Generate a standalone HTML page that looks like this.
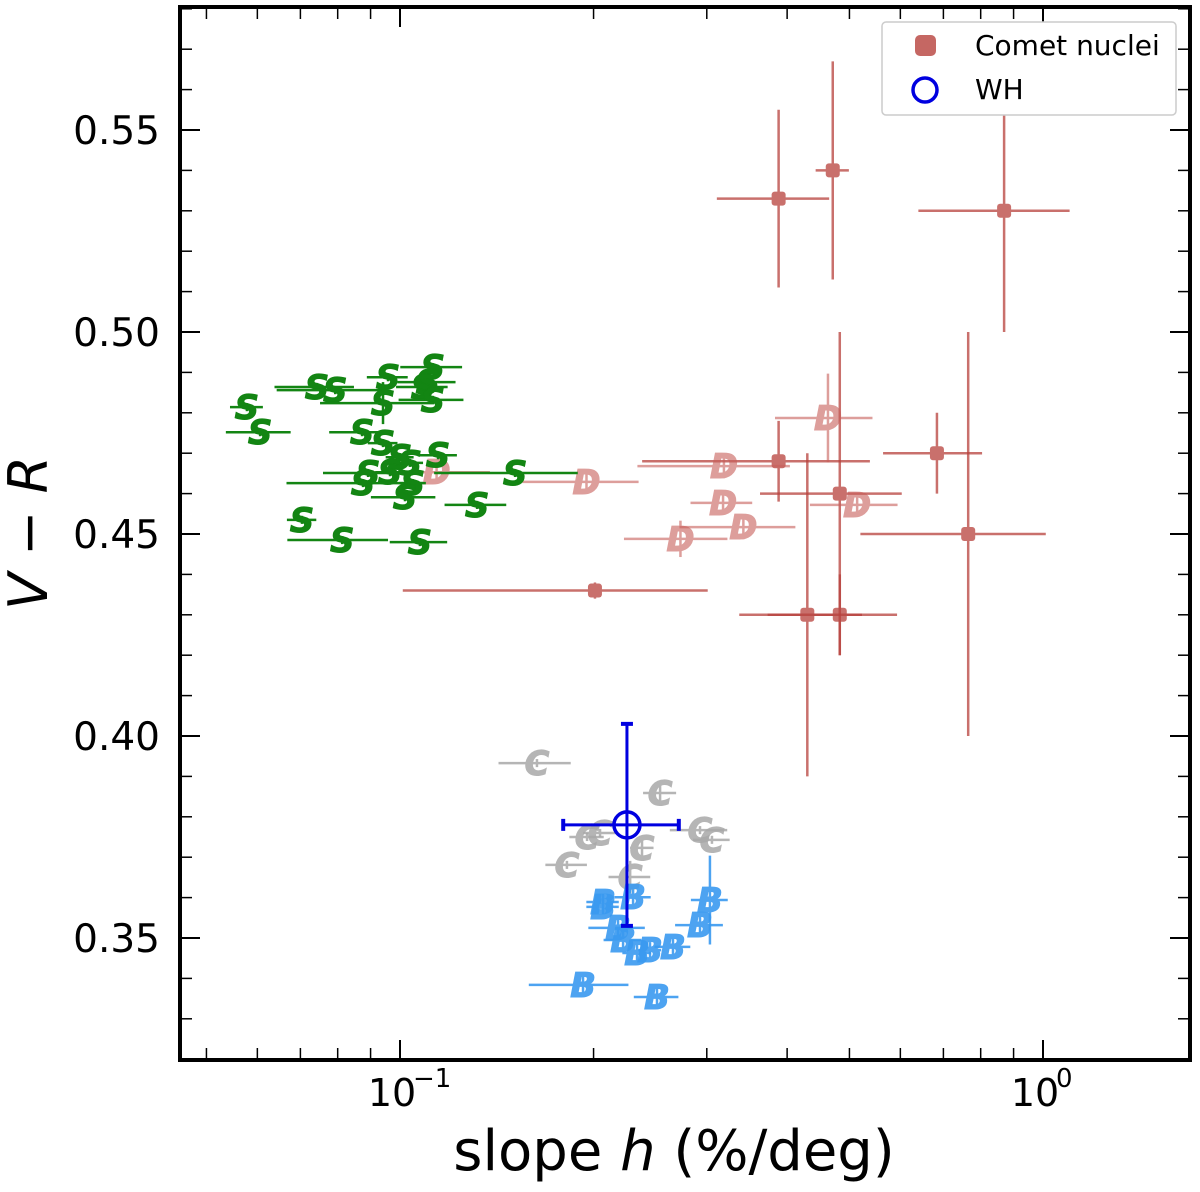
<!DOCTYPE html>
<html><head><meta charset="utf-8"><style>
html,body{margin:0;padding:0;background:#fff;}
svg text{font-family:"DejaVu Sans","Liberation Sans",sans-serif;}
</style></head><body>
<svg id="chart" width="1200" height="1187" viewBox="0 0 1200 1187" xmlns="http://www.w3.org/2000/svg">
<g id="marks"></g>
<g id="axes"></g>
</svg>
<script>
// ---- data ----
const cometX = [0.388,0.471,0.870,0.388,0.483,0.684,0.765,0.430,0.483,0.201];
const cometY = [0.533,0.540,0.530,0.468,0.460,0.470,0.450,0.430,0.430,0.436];
const cometXerr = [0.077,0.028,0.23,0.15,0.12,0.12,0.245,0.093,0.11,0.1];
const cometYerr = [0.022,0.027,0.030,0.010,0.040,0.010,0.050,0.040,0.010,0.002];

const dX = [0.463,0.319,0.195,0.318,0.342,0.514,0.273,0.114];
const dY = [0.4787,0.4668,0.4629,0.4577,0.4517,0.4572,0.4488,0.4653];
const dXerr = [0.08,0.085,0.04,0.035,0.07,0.08,0.05,0.024];
const dYerr = [0.011,0.003,0.003,0.003,0.003,0.003,0.0045,0.002];

const sX = [0.0578,0.0606,0.0743,0.0793,0.0958,0.1125,0.1105,0.1086,0.1125,0.0941,0.0873,0.0941,0.1146,0.1,0.1036,0.0892,0.0965,0.0876,0.1047,0.1018,0.151,0.1318,0.0704,0.0813,0.1074];
const sY = [0.4814,0.4752,0.4864,0.4856,0.4888,0.4913,0.4876,0.4864,0.4832,0.4824,0.4752,0.4725,0.4695,0.469,0.4676,0.4651,0.4653,0.4626,0.4626,0.4591,0.4651,0.4572,0.4535,0.4485,0.448];
const sXerr = [0.0034,0.007,0.0105,0.015,0.007,0.0124,0.0115,0.01,0.013,0.019,0.0097,0.005,0.008,0.005,0.005,0.0133,0.005,0.021,0.005,0.0117,0.038,0.0145,0.0037,0.0145,0.011];
const sYerr = [0.001,0.001,0.001,0.001,0.001,0.001,0.001,0.001,0.001,0.0052,0.001,0.001,0.001,0.001,0.001,0.001,0.001,0.001,0.001,0.001,0.001,0.001,0.001,0.001,0.001];

const cX = [0.1633,0.2538,0.1954,0.2047,0.2379,0.2928,0.3056,0.1818,0.228];
const cY = [0.3933,0.3859,0.375,0.376,0.3723,0.3767,0.3743,0.3681,0.3651];
const cXerr = [0.021,0.015,0.012,0.012,0.01,0.03,0.02,0.0135,0.017];
const cYerr = [0.001,0.002,0.001,0.001,0.002,0.001,0.001,0.001,0.004];

const bX = [0.2069,0.2304,0.3034,0.2928,0.2183,0.2223,0.2337,0.2448,0.2658,0.1926,0.251,0.2069];
const bY = [0.3589,0.3601,0.3594,0.3532,0.3525,0.3495,0.3463,0.347,0.3478,0.3384,0.3354,0.3577];
const bXerr = [0.012,0.015,0.02,0.025,0.022,0.015,0.012,0.01,0.017,0.034,0.02,0.012];
const bYerr = [0.002,0.002,0.011,0.002,0.002,0.002,0.002,0.002,0.002,0.002,0.002,0.002];

const whX = [0.2254], whY = [0.378], whXerr = [0.046], whYerr = [0.025];

const yTicks = [0.35,0.40,0.45,0.50,0.55];
const yTickLabels = ["0.35","0.40","0.45","0.50","0.55"];
const xMajor = [0.1,1];
const xMinor = [0.05,0.06,0.07,0.08,0.09,0.2,0.3,0.4,0.5,0.6,0.7,0.8,0.9];

// ---- scales ----
const L=180,R=1190,T=7,B=1060;
const X0=400, DEC=643, Y35=938, PX_PER=202/0.05;
function sx(v){return X0+(Math.log10(v)+1)*DEC;}
function sy(v){return Y35-(v-0.35)*PX_PER;}
const NS="http://www.w3.org/2000/svg";
const marks=document.getElementById('marks'), axes=document.getElementById('axes');
function mk(tag,attrs,parent){const e=document.createElementNS(NS,tag);for(const k in attrs)e.setAttribute(k,attrs[k]);parent.appendChild(e);return e;}

function drawSeries(X,Y,XE,YE,color,op,letter,name){
  for(let i=0;i<X.length;i++){
    const g=mk('g',{opacity:op},marks);
    
    
    const cx=sx(X[i]),cy=sy(Y[i]);
    const h=mk('line',{x1:sx(X[i]-XE[i]),x2:sx(X[i]+XE[i]),y1:cy,y2:cy,stroke:color,'stroke-width':2.5},g);
    
    
    const v=mk('line',{x1:cx,x2:cx,y1:sy(Y[i]+YE[i]),y2:sy(Y[i]-YE[i]),stroke:color,'stroke-width':2.5},g);
    
    
    let m;
    if(letter){
      m=mk('text',{x:cx,y:cy+12,'text-anchor':'middle','font-size':34,'font-weight':'bold','font-style':'italic',fill:color,stroke:color,'stroke-width':1},g);
      m.textContent=letter;
    } else {
      m=mk('rect',{x:cx-7,y:cy-7,width:14,height:14,rx:3,fill:color},g);
    }
    
    
  }
}
drawSeries(cometX,cometY,cometXerr,cometYerr,'#b7413c',0.75,null,'comet-nucleus');
drawSeries(dX,dY,dXerr,dYerr,'#c85e5a',0.6,'D','d-type');
drawSeries(sX,sY,sXerr,sYerr,'#138513',1,'S','s-type');
drawSeries(cX,cY,cXerr,cYerr,'#a9a9a9',0.85,'C','c-type');
drawSeries(bX,bY,bXerr,bYerr,'#3a9af0',0.9,'B','b-type');

// WH
{
  const g=mk('g',{},marks);
  
  
  const cx=sx(whX[0]),cy=sy(whY[0]);
  const x1=sx(whX[0]-whXerr[0]),x2=sx(whX[0]+whXerr[0]),y1=sy(whY[0]+whYerr[0]),y2=sy(whY[0]-whYerr[0]);
  mk('line',{x1:x1,x2:x2,y1:cy,y2:cy,stroke:'#0000e0','stroke-width':3},g);
  mk('line',{x1:cx,x2:cx,y1:y1,y2:y2,stroke:'#0000e0','stroke-width':3},g);
  mk('line',{x1:x1,x2:x1,y1:cy-6,y2:cy+6,stroke:'#0000e0','stroke-width':4},g);
  mk('line',{x1:x2,x2:x2,y1:cy-6,y2:cy+6,stroke:'#0000e0','stroke-width':4},g);
  mk('line',{x1:cx-6,x2:cx+6,y1:y1,y2:y1,stroke:'#0000e0','stroke-width':4},g);
  mk('line',{x1:cx-6,x2:cx+6,y1:y2,y2:y2,stroke:'#0000e0','stroke-width':4},g);
  mk('circle',{cx:cx,cy:cy,r:13,fill:'none',stroke:'#0000e0','stroke-width':3.5},g);
}

// ---- axes ----
for(let i=0;i<yTicks.length;i++){
  const y=sy(yTicks[i]);
  mk('line',{x1:L,x2:L+20,y1:y,y2:y,stroke:'#000','stroke-width':2},axes);
  mk('line',{x1:R-20,x2:R,y1:y,y2:y,stroke:'#000','stroke-width':2},axes);
  const t=mk('text',{x:160,y:y+14,'text-anchor':'end','font-size':39,fill:'#000'},axes);
  t.textContent=yTickLabels[i];
  
  
}
for(let v=0.33;v<=0.581;v+=0.01){
  const y=sy(v); if(y<T||y>B)continue;
  mk('line',{x1:L,x2:L+12,y1:y,y2:y,stroke:'#000','stroke-width':1.5},axes);
  mk('line',{x1:R-12,x2:R,y1:y,y2:y,stroke:'#000','stroke-width':1.5},axes);
}
for(const v of xMinor){
  const x=sx(v);
  mk('line',{x1:x,x2:x,y1:B,y2:B-12,stroke:'#000','stroke-width':1.5},axes);
  mk('line',{x1:x,x2:x,y1:T,y2:T+12,stroke:'#000','stroke-width':1.5},axes);
}
const xl=["10","10"], xe=["−1","0"];
for(let i=0;i<xMajor.length;i++){
  const x=sx(xMajor[i]);
  mk('line',{x1:x,x2:x,y1:B,y2:B-20,stroke:'#000','stroke-width':2},axes);
  mk('line',{x1:x,x2:x,y1:T,y2:T+20,stroke:'#000','stroke-width':2},axes);
  const t=mk('text',{x:x-8,y:1106,'text-anchor':'middle','font-size':38,fill:'#000'},axes);
  t.textContent=xl[i];
  
  
  const e=mk('text',{x:x+13,y:1087,'text-anchor':'start','font-size':26,fill:'#000'},axes);
  e.textContent=xe[i];
}
const fr=mk('rect',{x:L,y:T,width:R-L,height:B-T,fill:'none',stroke:'#000','stroke-width':4},axes);


</script>
<svg style="position:absolute;left:0;top:0" width="1200" height="1187">
<text x="674" y="1170" text-anchor="middle" font-size="56" font-family="DejaVu Sans, Liberation Sans, sans-serif">slope <tspan font-style="italic">h</tspan> (%/deg)</text>
<text transform="translate(47,533) rotate(-90)" text-anchor="middle" font-size="54" font-family="DejaVu Sans, Liberation Sans, sans-serif"><tspan font-style="italic">V</tspan> − <tspan font-style="italic">R</tspan></text>
<g>
<rect x="882" y="22" width="294" height="93" rx="4" fill="#fff" stroke="#ccc" stroke-width="1.5"/>
<rect x="915" y="35" width="21" height="21" rx="5" fill="#b7413c" opacity="0.8"/>
<text x="975" y="55" font-size="28" font-family="DejaVu Sans, Liberation Sans, sans-serif">Comet nuclei</text>
<circle cx="925" cy="90" r="12" fill="none" stroke="#0000e0" stroke-width="3.5"/>
<text x="975" y="99" font-size="28" font-family="DejaVu Sans, Liberation Sans, sans-serif">WH</text>
</g>
</svg>
</body></html>
